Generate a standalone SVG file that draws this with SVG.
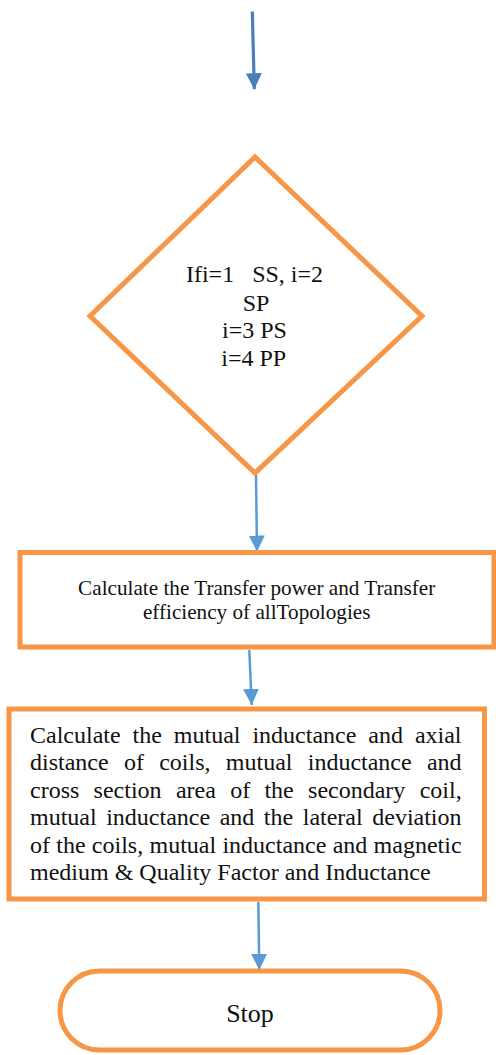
<svg xmlns="http://www.w3.org/2000/svg" width="496" height="1055" viewBox="0 0 496 1055">
<style>
.shape{fill:#ffffff;stroke:#F79646;stroke-width:5}
.t{font-family:"Liberation Serif","Times New Roman",serif;fill:#111111}
.c{text-anchor:middle}
.conn{stroke:#5B9BD5;stroke-width:2.5;fill:none}
</style>
<defs>
<marker id="ah" markerUnits="userSpaceOnUse" markerWidth="16" markerHeight="16" refX="16" refY="8" orient="auto">
<path d="M0,0 L16,8 L0,16 z" fill="#5B9BD5"/>
</marker>
<marker id="ah2" markerUnits="userSpaceOnUse" markerWidth="16" markerHeight="16" refX="16" refY="8" orient="auto">
<path d="M0,0 L16,8 L0,16 z" fill="#4A7EBB"/>
</marker>
</defs>
<rect width="496" height="1055" fill="#ffffff"/>
<g id="connectors">
<line x1="252.3" y1="11.5" x2="254.3" y2="89.3" stroke="#4A7EBB" stroke-width="3.2" marker-end="url(#ah2)"/>
<line class="conn" x1="256" y1="475" x2="257" y2="551.5" marker-end="url(#ah)"/>
<line class="conn" x1="249.3" y1="650" x2="251.7" y2="705" marker-end="url(#ah)"/>
<line class="conn" x1="258.3" y1="902" x2="259.3" y2="970" marker-end="url(#ah)"/>
</g>
<g id="decision">
<polygon class="shape" stroke-width="4.5" points="255,157 422,316 255,473 90,316"/>
<text class="t c" font-size="24" xml:space="preserve" style="white-space:pre"><tspan x="254.5" y="282">Ifi=1   SS, i=2</tspan></text>
<text class="t c" font-size="24"><tspan x="256" y="310.7">SP</tspan><tspan x="254.5" y="337.7">i=3 PS</tspan><tspan x="253.7" y="366">i=4 PP</tspan></text>
</g>
<g id="transfer">
<rect class="shape" x="20" y="552.5" width="474" height="94.5"/>
<text class="t c" font-size="21.2"><tspan x="256.7" y="595">Calculate the Transfer power and Transfer</tspan><tspan x="256.7" y="619.3">efficiency of allTopologies</tspan></text>
</g>
<g id="mutual">
<rect class="shape" x="9" y="709" width="475.5" height="190" stroke-width="5.5"/>
<text class="t" font-size="24">
<tspan x="30" y="742.7" word-spacing="5.94">Calculate the mutual inductance and axial</tspan>
<tspan x="30" y="770" word-spacing="9.28">distance of coils, mutual inductance and</tspan>
<tspan x="30" y="797.7" word-spacing="8.3">cross section area of the secondary coil,</tspan>
<tspan x="30" y="825" word-spacing="3.54">mutual inductance and the lateral deviation</tspan>
<tspan x="30" y="852.7" word-spacing="0.28">of the coils, mutual inductance and magnetic</tspan>
<tspan x="30" y="880">medium &amp; Quality Factor and Inductance</tspan>
</text>
</g>
<g id="stop">
<rect class="shape" x="60" y="971" width="380" height="79" rx="39.5" ry="39.5" stroke-width="5.5"/>
<text class="t c" font-size="26" x="250" y="1021.7">Stop</text>
</g>
</svg>
